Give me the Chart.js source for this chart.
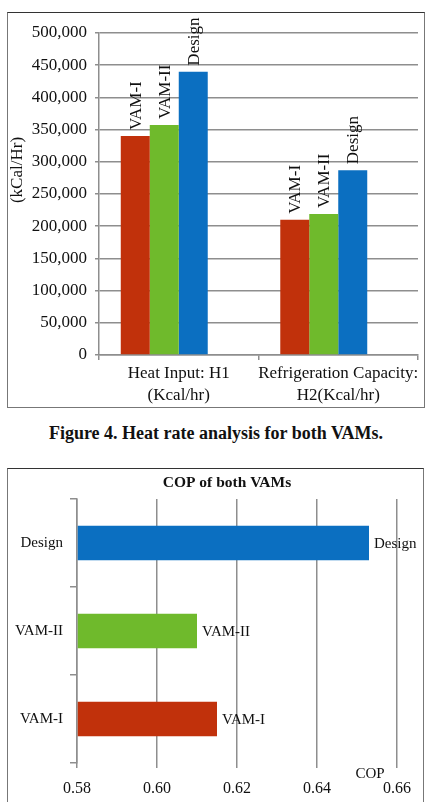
<!DOCTYPE html>
<html>
<head>
<meta charset="utf-8">
<script src="https://cdn.jsdelivr.net/npm/chart.js@4.4.0/dist/chart.umd.min.js"></script>
<style>
  html, body { margin: 0; padding: 0; background: #fff; }
  body { width: 428px; height: 802px; position: relative; overflow: hidden; font-family: "Liberation Serif", "Times New Roman", serif; }
  .box { position: absolute; box-sizing: border-box; border: 1px solid #777; border-top-color: #333; }
  canvas { position: absolute; }
  #caption { position: absolute; left: 0; width: 432px; top: 423px; height: 20px; line-height: 20px; text-align: center; font-weight: bold; font-size: 18px; color: #111; }
</style>
</head>
<body>
<div class="box" style="left:7px; top:12px; width:418px; height:396px;"></div>
<canvas id="heatChart" style="left:8px; top:13px;" width="415" height="393"></canvas>
<div id="caption">Figure 4. Heat rate analysis for both VAMs.</div>
<div class="box" style="left:7px; top:468px; width:417px; height:340px;"></div>
<canvas id="copChart" style="left:8px; top:469px;" width="414" height="333"></canvas>
<script>
const SERIF = '"Liberation Serif", "Times New Roman", serif';
const GRID = '#8e8e8e';

// Figure 4 - heat rate
const heatCategories = [["Heat Input: H1", "(Kcal/hr)"], ["Refrigeration Capacity:", "H2(Kcal/hr)"]];
const vamOneHeat = [340000, 210000];
const vamTwoHeat = [357000, 219000];
const designHeat = [440000, 287000];
const heatTicks = [0, 50000, 100000, 150000, 200000, 250000, 300000, 350000, 400000, 450000, 500000];

// COP chart
const copCategories = ["Design", "VAM-II", "VAM-I"];
const copValues = [0.653, 0.610, 0.615];
const copTicks = [0.58, 0.60, 0.62, 0.64, 0.66];

const RED = '#c1310b';
const GREEN = '#6fba2c';
const BLUE = '#0b6fc1';

// rotated series names above each column
const columnLabels = {
  id: 'columnLabels',
  afterDatasetsDraw(chart) {
    const ctx = chart.ctx;
    ctx.save();
    ctx.font = '17px ' + SERIF;
    ctx.fillStyle = '#111';
    ctx.textAlign = 'left';
    ctx.textBaseline = 'middle';
    chart.data.datasets.forEach((ds, i) => {
      if (!ds.label) return;
      chart.getDatasetMeta(i).data.forEach((bar) => {
        ctx.save();
        ctx.translate(bar.x, bar.y - 6);
        ctx.rotate(-Math.PI / 2);
        ctx.fillText(ds.label, 0, 1);
        ctx.restore();
      });
    });
    // y axis title
    ctx.save();
    ctx.translate(10, 157);
    ctx.rotate(-Math.PI / 2);
    ctx.textAlign = 'center';
    ctx.fillText('(kCal/Hr)', 0, 0);
    ctx.restore();
    ctx.restore();
  }
};

new Chart(document.getElementById('heatChart').getContext('2d'), {
  type: 'bar',
  data: {
    labels: heatCategories,
    datasets: [
      { label: 'VAM-I', data: vamOneHeat, backgroundColor: RED },
      { label: 'VAM-II', data: vamTwoHeat, backgroundColor: GREEN },
      { label: 'Design', data: designHeat, backgroundColor: BLUE },
      // empty fourth series, keeps the groups left of centre like the original
      { label: '', data: [null, null], backgroundColor: 'transparent' }
    ]
  },
  options: {
    responsive: false,
    animation: false,
    categoryPercentage: 0.727,
    barPercentage: 1,
    layout: { padding: { top: 20, right: 5, left: 0, bottom: 0 } },
    plugins: { legend: { display: false }, tooltip: { enabled: false } },
    scales: {
      x: {
        afterFit: (scale) => { scale.height = 51; },
        grid: { drawOnChartArea: false, tickLength: 5, color: GRID, lineWidth: 1.5 },
        border: { color: GRID, width: 1.5 },
        ticks: { font: { family: SERIF, size: 17, lineHeight: 1.3 }, color: '#111', padding: 2, maxRotation: 0, autoSkip: false }
      },
      y: {
        min: 0,
        max: 500000,
        afterFit: (scale) => { scale.width = 91; },
        afterBuildTicks: (scale) => { scale.ticks = heatTicks.map(v => ({ value: v })); },
        grid: { color: GRID, lineWidth: 1.5, tickLength: 4 },
        border: { color: GRID, width: 1.5 },
        ticks: {
          font: { family: SERIF, size: 17 },
          color: '#111',
          padding: 8,
          callback: (v) => v.toLocaleString('en-US')
        }
      }
    }
  },
  plugins: [columnLabels]
});

const copText = {
  id: 'copText',
  afterDatasetsDraw(chart) {
    const ctx = chart.ctx;
    const area = chart.chartArea;
    ctx.save();
    ctx.fillStyle = '#111';
    ctx.textBaseline = 'middle';
    ctx.font = 'bold 15.5px ' + SERIF;
    ctx.textAlign = 'center';
    ctx.fillText('COP of both VAMs', (area.left + area.right) / 2 - 10, 14);
    ctx.font = '15px ' + SERIF;
    ctx.fillText('COP', area.right - 27, area.bottom + 11);
    ctx.textAlign = 'left';
    const meta = chart.getDatasetMeta(0);
    meta.data.forEach((bar, i) => {
      ctx.fillText(copCategories[i], bar.x + 5, bar.y + 1);
    });
    ctx.restore();
  }
};

new Chart(document.getElementById('copChart').getContext('2d'), {
  type: 'bar',
  data: {
    labels: copCategories,
    datasets: [{
      label: 'COP',
      data: copValues,
      backgroundColor: [BLUE, GREEN, RED],
      base: 0.58
    }]
  },
  options: {
    indexAxis: 'y',
    responsive: false,
    animation: false,
    categoryPercentage: 1,
    barPercentage: 0.39,
    layout: { padding: { top: 30, right: 21, left: 0, bottom: 0 } },
    plugins: { legend: { display: false }, tooltip: { enabled: false } },
    scales: {
      x: {
        min: 0.58,
        max: 0.66,
        afterFit: (scale) => { scale.height = 39; },
        afterBuildTicks: (scale) => { scale.ticks = copTicks.map(v => ({ value: v })); },
        grid: { color: GRID, lineWidth: 1.5, tickLength: 5 },
        border: { display: false },
        ticks: {
          font: { family: SERIF, size: 16 },
          color: '#111',
          padding: 11,
          callback: (v) => Number(v).toFixed(2)
        }
      },
      y: {
        afterFit: (scale) => { scale.width = 69; },
        grid: { drawOnChartArea: false, tickLength: 7, color: GRID, lineWidth: 1.5 },
        border: { color: GRID, width: 1.5 },
        ticks: { font: { family: SERIF, size: 15 }, color: '#111', padding: 7 }
      }
    }
  },
  plugins: [copText]
});
</script>
</body>
</html>
